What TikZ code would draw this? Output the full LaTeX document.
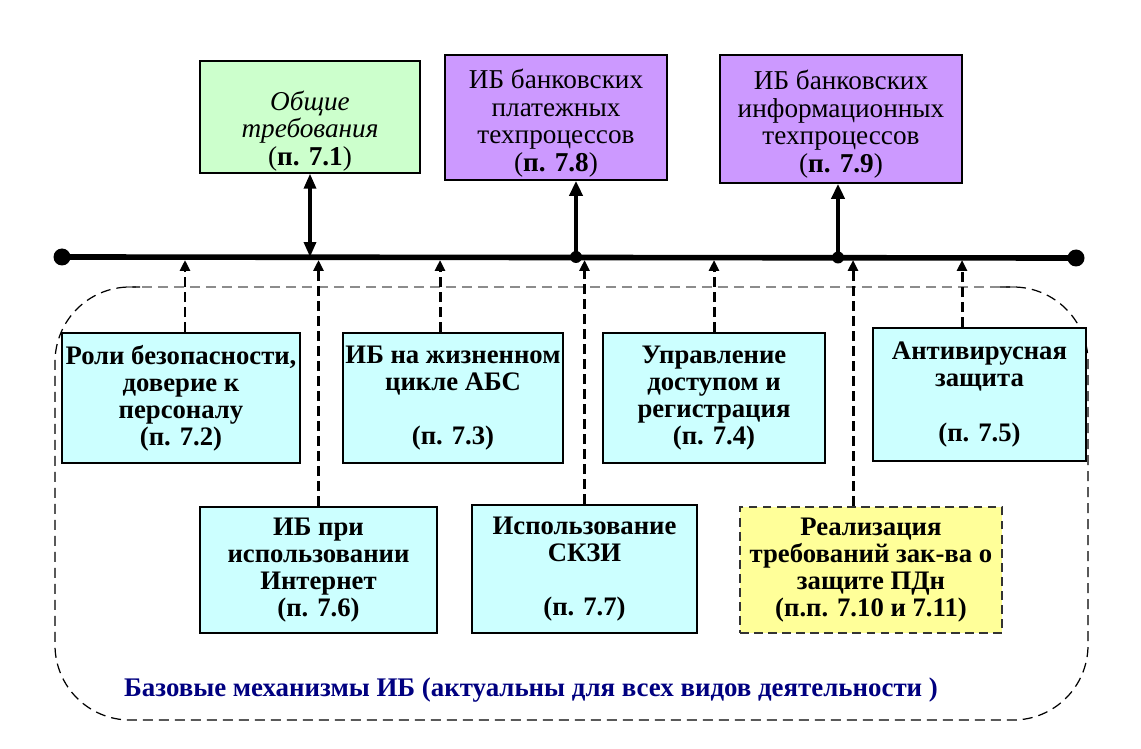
\documentclass[tikz,border=0pt]{standalone}
\usepackage{fontspec}
\setmainfont{Liberation Serif}
\usepackage{xcolor}
\definecolor{reqGreen}{HTML}{CCFFCC}
\definecolor{procViolet}{HTML}{CC99FF}
\definecolor{baseCyan}{HTML}{CCFFFF}
\definecolor{lawYellow}{HTML}{FFFF99}
\definecolor{captionNavy}{HTML}{000080}
\usepackage{tikz}
\usetikzlibrary{
    arrows.meta,
    positioning,
    calc
}
\tikzset{
    % Base style for all boxes
    box base/.style={
        rectangle,
        draw=black,
        line width=1pt,
        align=center,
        text=black,
        inner sep=1pt,
        font=\fontsize{15.5}{15.6}\selectfont,
    },
    % Upper boxes - general requirements and bank processes
    general/.style={
        box base,
        fill=reqGreen,
    },
    process/.style={
        box base,
        fill=procViolet,
    },
    % Lower boxes - basic mechanisms
    mechanism/.style={
        box base,
        fill=baseCyan,
        font=\fontsize{15.2}{15.4}\selectfont\bfseries,
    },
    % Personal data box - dashed border
    law/.style={
        mechanism,
        fill=lawYellow,
        draw=black!80,
        dash pattern=on 5pt off 3pt,
    },
    % Common bus
    bus/.style={
        line width=3.2pt,
    },
    bus end/.style={
        circle,
        fill=black,
        inner sep=0pt,
        minimum size=0.34cm,
    },
    tap/.style={
        circle,
        fill=black,
        inner sep=0pt,
        minimum size=0.24cm,
    },
    % Solid arrow to the upper boxes
    arrow/.style={
        -{Triangle[length=0.3cm, width=0.26cm]},
        line width=2.2pt,
    },
    arrow both/.style={
        {Triangle[length=0.3cm, width=0.24cm]}-{Triangle[length=0.3cm, width=0.24cm]},
        line width=1.9pt,
    },
    % Dashed arrow from the mechanisms to the bus
    arrow dashed/.style={
        -{Triangle[length=0.22cm, width=0.2cm]},
        line width=1.7pt,
        dash pattern=on 0.2cm off 0.1cm,
    },
    % Border of the mechanisms area
    area/.style={
        line width=0.7pt,
        dash pattern=on 0.2cm off 0.12cm,
    },
}

\begin{document}
\begin{tikzpicture}[x=0.02cm, y=-0.02cm]
    \useasboundingbox (0,0) rectangle (1141,749);

    % area of basic mechanisms
    \draw [area, black!45] (126,287) -- (1018,287);
    \draw [area, rounded corners=1.5cm] (1000,287) -- (1088,287) -- (1088,720) -- (55,720) -- (55,287) -- (140,287);

    % upper boxes
    \node (general_req) [general, minimum width=4.4cm, minimum height=2.2cm] at (310,117)
        {\rule{0pt}{0.95cm}\textit{Общие}\\\textit{требования}\\(\textbf{п. 7.1})};
    \node (pay_proc) [process, minimum width=4.44cm, minimum height=2.5cm] at (556,117.5)
        {\rule{0pt}{0.62cm}ИБ банковских\\платежных\\техпроцессов\\(\textbf{п. 7.8})};
    \node (info_proc) [process, minimum width=4.84cm, minimum height=2.56cm] at (841,119)
        {\rule{0pt}{0.6cm}ИБ банковских\\информационных\\техпроцессов\\(\textbf{п. 7.9})};

    % bus
    \node (bus_left) [bus end] at (62,257) {};
    \node (bus_right) [bus end] at (1076,258) {};
    \coordinate (bus_edge) at (62,260);
    \draw [bus] (bus_left.center) -- (bus_right.center);
    \node (tap_pay) [tap] at (576,257) {};
    \node (tap_info) [tap] at (838,257.5) {};

    % lower boxes
    \node (roles) [mechanism, minimum width=4.76cm, minimum height=2.6cm] at (181,398)
        {Роли безопасности,\\доверие к\\персоналу\\(п. 7.2)};
    \node (life_cycle) [mechanism, minimum width=4.4cm, minimum height=2.6cm] at (453,398)
        {ИБ на жизненном\\цикле АБС\\[15.4pt](п. 7.3)};
    \node (access) [mechanism, minimum width=4.44cm, minimum height=2.6cm] at (714,398)
        {Управление\\доступом и\\регистрация\\(п. 7.4)};
    \node (antivirus) [mechanism, minimum width=4.26cm, minimum height=2.66cm] at (979.5,394.5)
        {Антивирусная\\защита\\[15.4pt](п. 7.5)};
    \node (internet) [mechanism, minimum width=4.74cm, minimum height=2.52cm] at (318.5,570)
        {ИБ при\\использовании\\Интернет\\(п. 7.6)};
    \node (crypto) [mechanism, minimum width=4.5cm, minimum height=2.56cm] at (584.5,569)
        {Использование\\СКЗИ\\[15.4pt](п. 7.7)};
    \node (pdn) [law, minimum width=5.24cm, minimum height=2.52cm] at (871,570)
        {Реализация\\требований зак-ва о\\защите ПДн\\(п.п. 7.10 и 7.11)};

    \node (caption) [font=\fontsize{15.3}{16}\selectfont\bfseries, text=captionNavy] at (531,690)
        {Базовые механизмы ИБ (актуальны для всех видов деятельности )};

    % links to the upper boxes
    \draw [arrow both] (general_req.south) -- (general_req.south |- bus_left);
    \draw [arrow] (tap_pay.center) -- (tap_pay.center |- pay_proc.south);
    \draw [arrow] (tap_info.center) -- (tap_info.center |- info_proc.south);

    % links from the mechanisms
    \draw [arrow dashed] ([xshift=0.08cm]roles.north) -- ([xshift=0.08cm]roles.north |- bus_edge);
    \draw [arrow dashed] (internet.north) -- (internet.north |- bus_edge);
    \draw [arrow dashed] ([xshift=-0.26cm]life_cycle.north) -- ([xshift=-0.26cm]life_cycle.north |- bus_edge);
    \draw [arrow dashed] (crypto.north) -- (crypto.north |- bus_edge);
    \draw [arrow dashed] (access.north) -- (access.north |- bus_edge);
    \draw [arrow dashed] ([xshift=-0.36cm]pdn.north) -- ([xshift=-0.36cm]pdn.north |- bus_edge);
    \draw [arrow dashed] ([xshift=-0.35cm]antivirus.north) -- ([xshift=-0.35cm]antivirus.north |- bus_edge);
\end{tikzpicture}
\end{document}
